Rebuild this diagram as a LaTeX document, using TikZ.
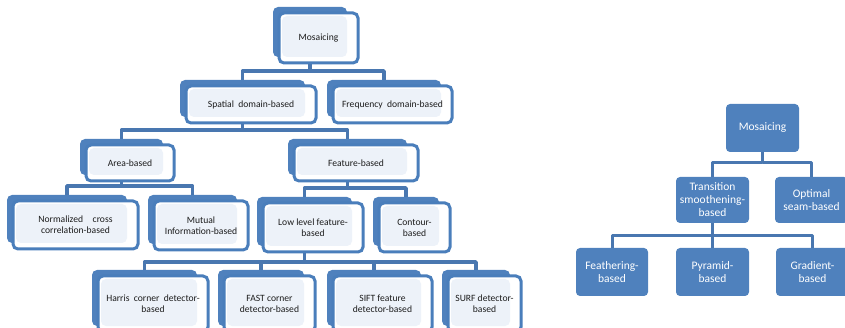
\documentclass[tikz,border=0pt]{standalone}
\usepackage{fontspec}
\setmainfont{Carlito}
\usetikzlibrary{backgrounds}

\definecolor{sablue}{HTML}{4F81BD}
\definecolor{saline}{HTML}{4A7EBB}
\definecolor{salight}{HTML}{EDF2F9}
\definecolor{saconn}{HTML}{4977B0}
\definecolor{satext}{HTML}{1C1C1C}

\tikzset{
  lback/.style={fill=sablue, rounded corners=5pt, inner sep=0pt, outer sep=0pt},
  lfront/.style={fill=white, draw=saline, line width=3pt, rounded corners=5pt,
    inner sep=0pt, outer sep=0pt, align=center, text=satext,
    font=\fontsize{9.6}{11}\selectfont},
  lconn/.style={draw=saconn, line width=3.5pt, line join=round},
  rbox/.style={fill=sablue, rounded corners=4pt, inner sep=0pt, outer sep=0pt,
    align=center, text=white, font=\fontsize{11.5}{13}\selectfont},
  rconn/.style={draw=saconn, line width=3pt, line join=round},
}

% Layered box: a solid shape (named #1) with an outlined, offset card carrying the text.
% #1 name, #2..#5 corners of the solid shape (x1,y1,x2,y2), #6 text
\newcommand\lbox[6]{%
  \node[lback, minimum width={#4-#2}, minimum height={#5-#3}] (#1)
    at ({(#2+#4)/2},{(#3+#5)/2}) {};
  \node[lfront, minimum width={#4-#2+5}, minimum height={#5-#3},
    path picture={\fill[salight] ([shift={(3,3)}]path picture bounding box.north west)
      rectangle (#1.south east);}]
    (#1-t) at ([shift={(8.5,6)}]#1.center) {#6};
}

\begin{document}
\begin{tikzpicture}[x=1pt,y=-1pt]
\useasboundingbox (0,0) rectangle (845,328);

% ---- classification of mosaicing methods ----
\lbox{mos}{273}{7}{347}{57}{Mosaicing}
\lbox{spat}{180}{80}{305}{117}{Spatial\ \ domain-based}
\lbox{freq}{327}{80}{441}{117}{Frequency\ \ domain-based}
\lbox{area}{80}{139}{163}{175}{Area-based}
\lbox{feat}{288}{139}{407}{175}{Feature-based}
\lbox{norm}{7}{195}{127}{243}{Normalized\hspace{1em}cross\\correlation-based}
\lbox{mutu}{148}{195}{237}{244}{Mutual\\Information-based}
\lbox{low}{257}{197}{352}{246}{Low level feature-\\based}
\lbox{cont}{373}{197}{439}{246}{Contour-\\based}
\lbox{harr}{92}{270}{197}{326}{Harris\ \ corner\ \ detector-\\based}
\lbox{fast}{218}{270}{304}{326}{FAST corner\\detector-based}
\lbox{sift}{327}{270}{421}{326}{SIFT feature\\detector-based}
\lbox{surf}{442}{270}{510}{326}{SURF detector-\\based}

% ---- blending methods ----
\node[rbox, minimum width=73, minimum height=48] (rmos) at (762.5,128) {Mosaicing};
\node[rbox, minimum width=73, minimum height=46] (trans) at (712.5,200) {Transition\\smoothening-\\based};
\node[rbox, minimum width=73, minimum height=46] (opt) at (811.5,200) {Optimal\\seam-based};
\node[rbox, minimum width=72, minimum height=48] (feath) at (612,272) {Feathering-\\based};
\node[rbox, minimum width=73, minimum height=48] (pyr) at (712.5,272) {Pyramid-\\based};
\node[rbox, minimum width=73, minimum height=48] (grad) at (812.5,272) {Gradient-\\based};

\begin{scope}[on background layer]
  \coordinate (b1) at (0,71);
  \coordinate (b2) at (0,130);
  \coordinate (b3) at (0,186);
  \coordinate (b4) at (0,188);
  \coordinate (b5) at (0,262);
  \coordinate (b6) at (0,163);
  \coordinate (b7) at (0,236);

  \draw[lconn] (mos.south) -- (mos.south |- b1) -| (spat.north);
  \draw[lconn] (mos.south |- b1) -| (freq.north);

  \draw[lconn] (spat.south) -- (spat.south |- b2) -| (area.north);
  \draw[lconn] (spat.south |- b2) -| (feat.north);

  \draw[lconn] (area.south) -- (area.south |- b3) -| (norm.north);
  \draw[lconn] (area.south |- b3) -| (mutu.north);

  \draw[lconn] (feat.south) -- (feat.south |- b4) -| (low.north);
  \draw[lconn] (feat.south |- b4) -| (cont.north);

  \draw[lconn] (low.south) -- (low.south |- b5) -| (harr.north);
  \draw[lconn] (low.south |- b5) -| (fast.north);
  \draw[lconn] (low.south |- b5) -| (sift.north);
  \draw[lconn] (low.south |- b5) -| (surf.north);

  \draw[rconn] (rmos.south) -- (rmos.south |- b6) -| (trans.north);
  \draw[rconn] (rmos.south |- b6) -| (opt.north);

  \draw[rconn] (trans.south) -- (trans.south |- b7) -| (feath.north);
  \draw[rconn] (trans.south |- b7) -| (pyr.north);
  \draw[rconn] (trans.south |- b7) -| (grad.north);
\end{scope}
\end{tikzpicture}
\end{document}
